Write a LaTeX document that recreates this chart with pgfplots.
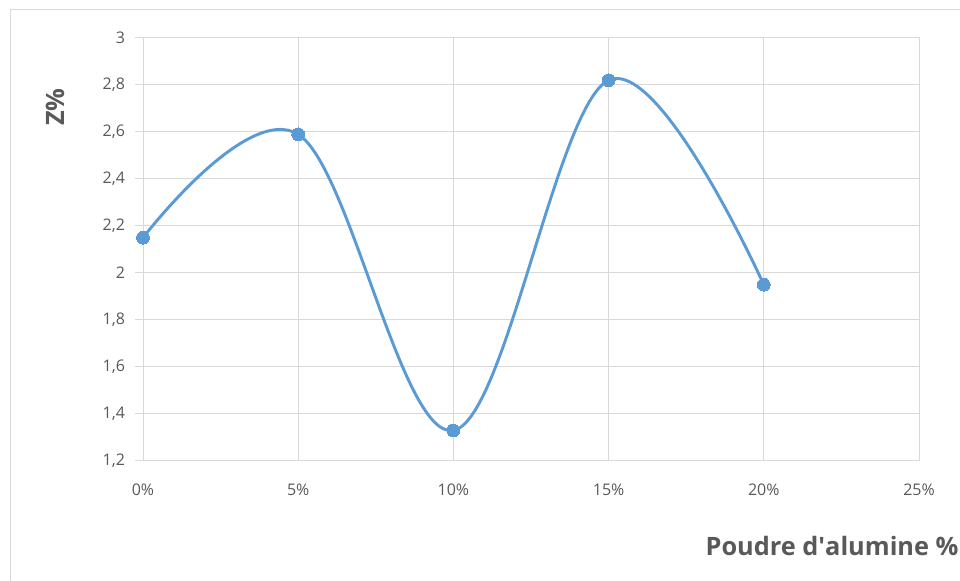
\documentclass[border=0pt]{standalone}
\usepackage{fontspec}
\setmainfont{Open Sans}
\usepackage{pgfplots}
\pgfplotsset{compat=1.18}
\definecolor{gridc}{HTML}{D9D9D9}
\definecolor{txt}{HTML}{595959}
\definecolor{lineblue}{HTML}{5B9BD5}
\begin{document}
\begin{tikzpicture}
\path[use as bounding box] (0,0) rectangle (720pt,435.75pt);
\draw[gridc, line width=0.75pt] (7.5pt,0) -- (7.5pt,428.25pt) -- (720pt,428.25pt);
\begin{axis}[
  at={(107.25pt,90pt)}, anchor=south west,
  scale only axis, width=582pt, height=317.25pt,
  xmin=0, xmax=25, ymin=1.2, ymax=3,
  xtick={0,5,10,15,20,25},
  xticklabels={0\%,5\%,10\%,15\%,20\%,25\%},
  ytick={1.2,1.4,...,3.01},
  /pgf/number format/.cd, use comma, fixed, precision=1, assume math mode=true,
  /pgfplots/.cd,
  grid=major,
  major grid style={gridc, line width=0.75pt},
  axis line style={gridc, line width=0.75pt},
  tick style={gridc, line width=0.75pt},
  xtick style={draw=none},
  ytick pos=left, tick align=outside, major tick length=6pt,
  ticklabel style={font=\fontsize{12}{14}\selectfont, text=txt},
  yticklabel style={xshift=-4pt},
  xticklabel style={yshift=-8pt},
  xlabel={Poudre d\textquotesingle alumine \%},
  ylabel={Z\%},
  label style={font=\bfseries\fontsize{19}{22}\selectfont, text=txt},
  xlabel style={at={(rel axis cs:0.888,0)}, anchor=center, yshift=-64pt},
  ylabel style={at={(rel axis cs:0,0.837)}, anchor=center, yshift=66pt},
  clip=false,
]
\addplot[lineblue, line width=2.2pt, smooth, tension=0.6, mark=*, mark size=4.8pt, mark options={fill=lineblue, draw=lineblue, line width=0pt}]
coordinates {(0,2.15) (5,2.59) (10,1.33) (15,2.82) (20,1.95)};
\end{axis}
\end{tikzpicture}
\end{document}
